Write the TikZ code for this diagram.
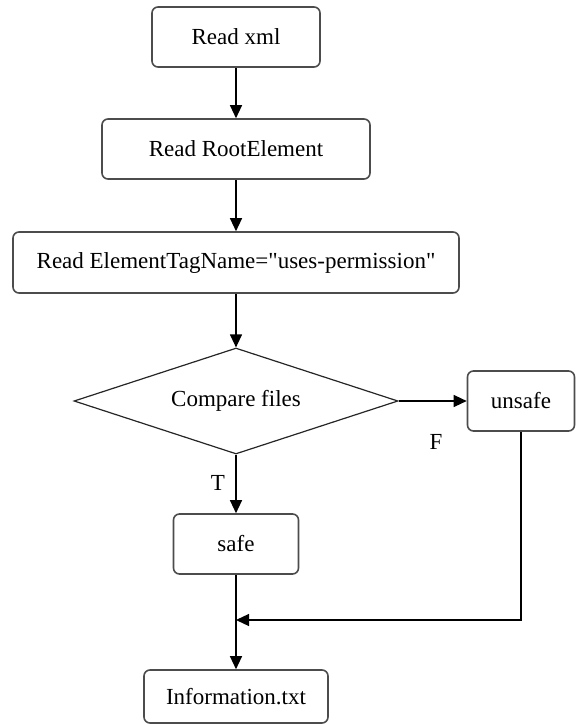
\documentclass[tikz,border=0pt]{standalone}
\usepackage{fontspec}
\setmainfont{Liberation Serif}
\usetikzlibrary{shapes,arrows.meta,positioning}

\begin{document}
\begin{tikzpicture}[x=0.5pt, y=-0.5pt]
			\tikzstyle{Box}		= [rectangle, rounded corners=3pt, draw=black!70, line width=0.8pt, fill=white, inner sep=0pt, font=\fontsize{11.5}{14}\selectfont]
			\tikzstyle{Decision}	= [diamond, aspect=3, draw=black!85, line width=0.6pt, fill=white, inner sep=0pt, font=\fontsize{11.5}{14}\selectfont]
			\tikzstyle{Flow}	= [-{Triangle[length=6.5pt, width=6pt]}, line width=0.6pt]
			\tikzstyle{Mark}	= [inner sep=0pt, font=\fontsize{11.5}{14}\selectfont]

			\useasboundingbox (0,0) rectangle (575,724);

			\node (xml) at (236, 37) [Box, minimum width=84pt, minimum height=30pt] {Read xml};
			\node (root) at (236, 149) [Box, minimum width=134pt, minimum height=30pt] {Read RootElement};
			\node (tag) at (236, 262.5) [Box, minimum width=223pt, minimum height=30.5pt] {Read ElementTagName=\textquotedbl uses-permission\textquotedbl};
			\node (cmp) at (236, 401) [Decision, minimum width=162pt, minimum height=53pt] {Compare files};
			\node (unsafe) at (521, 401) [Box, minimum width=53.5pt, minimum height=30pt] {unsafe};
			\node (safe) at (236, 544) [Box, minimum width=62.5pt, minimum height=30pt] {safe};
			\node (info) at (236, 696.5) [Box, minimum width=92pt, minimum height=26.5pt] {Information.txt};
			\node (t) at (218, 483) [Mark] {T};
			\node (f) at (436, 442) [Mark] {F};
			\coordinate (join) at (236, 620);

			\draw (xml) to (root) [Flow];
			\draw (root) to (tag) [Flow];
			\draw (tag) to (cmp) [Flow];
			\draw (cmp) to (unsafe) [Flow];
			\draw (cmp) to (safe) [Flow];
			\draw (safe) to (info) [Flow];
			\draw (unsafe) |- (join) [Flow];
		\end{tikzpicture}
\end{document}
